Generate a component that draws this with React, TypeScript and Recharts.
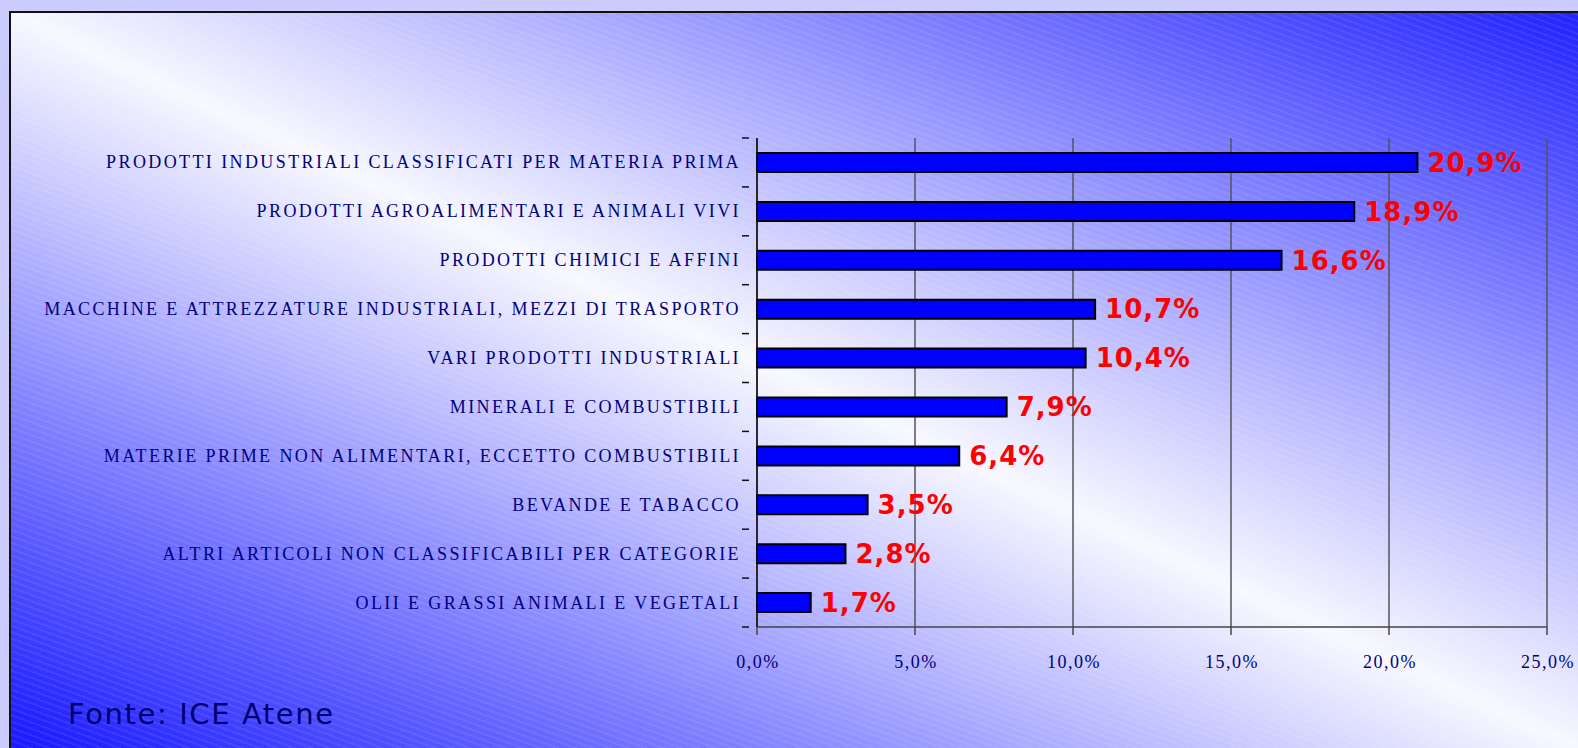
import { BarChart, Bar, XAxis, YAxis, CartesianGrid, LabelList } from 'recharts';

const categories = [
  'PRODOTTI INDUSTRIALI CLASSIFICATI PER MATERIA PRIMA',
  'PRODOTTI AGROALIMENTARI E ANIMALI VIVI',
  'PRODOTTI CHIMICI E AFFINI',
  'MACCHINE E ATTREZZATURE INDUSTRIALI, MEZZI DI TRASPORTO',
  'VARI PRODOTTI INDUSTRIALI',
  'MINERALI E COMBUSTIBILI',
  'MATERIE PRIME NON ALIMENTARI, ECCETTO COMBUSTIBILI',
  'BEVANDE E TABACCO',
  'ALTRI ARTICOLI NON CLASSIFICABILI PER CATEGORIE',
  'OLII E GRASSI ANIMALI E VEGETALI',
];
const shares = [20.9, 18.9, 16.6, 10.7, 10.4, 7.9, 6.4, 3.5, 2.8, 1.7];
const xTicks = [0, 5, 10, 15, 20, 25];

const data = categories.map((name, i) => ({ name, value: shares[i] }));

const pct = (v: number, digits: number) => `${v.toFixed(digits).replace('.', ',')}%`;

if (typeof document !== 'undefined') {
  document.body.style.margin = '0';
  document.documentElement.style.overflow = 'hidden';
}

const W = 1578;
const H = 748;
const PLOT_LEFT = 757;
const PLOT_RIGHT = 1547;
const PLOT_TOP = 138;
const PLOT_BOTTOM = 627;
const BAND = (PLOT_BOTTOM - PLOT_TOP) / categories.length;

const CategoryTick = (props: any) => {
  const { x, y, payload, index } = props;
  const top = y - BAND / 2;
  return (
    <g>
      <line x1={x - 7} x2={x} y1={top} y2={top} stroke="#111" strokeWidth={1.5} />
      {index === categories.length - 1 && (
        <line x1={x - 7} x2={x} y1={top + BAND} y2={top + BAND} stroke="#111" strokeWidth={1.5} />
      )}
      <text
        x={x - 8}
        y={y}
        dy={6}
        textAnchor="end"
        fill="#000080"
        fontFamily="'Liberation Serif', serif"
        fontSize={18}
        letterSpacing={2.4}
      >
        {payload.value}
      </text>
    </g>
  );
};

const PercentTick = (props: any) => {
  const { x, y, payload } = props;
  return (
    <text
      x={x + 1}
      y={y}
      dy={31}
      textAnchor="middle"
      fill="#000080"
      fontFamily="'Liberation Serif', serif"
      fontSize={18}
      letterSpacing={1.5}
    >
      {pct(payload.value, 1)}
    </text>
  );
};

export default function App() {
  return (
    <div
      style={{
        position: 'relative',
        width: W,
        height: H,
        background: '#ccccff',
        overflow: 'hidden',
      }}
    >
      <div
        style={{
          position: 'absolute',
          left: 9,
          top: 11,
          width: W - 9,
          height: H - 11,
          borderLeft: '2px solid #111',
          borderTop: '2px solid #111',
          boxSizing: 'border-box',
          background:
            'repeating-linear-gradient(20deg, rgba(255,255,255,0.07) 0px, rgba(255,255,255,0.07) 2px, rgba(255,255,255,0) 2px, rgba(255,255,255,0) 6px), linear-gradient(to top right, #1818ff 0%, #f8f8ff 50%, #2222ff 100%)',
        }}
      />
      <div style={{ position: 'absolute', left: 0, top: 0 }}>
        <BarChart
          width={W}
          height={H}
          data={data}
          layout="vertical"
          margin={{ top: PLOT_TOP, right: W - PLOT_RIGHT, bottom: H - PLOT_BOTTOM - 40, left: 0 }}
          barCategoryGap={0}
        >
          <CartesianGrid horizontal={false} stroke="#555" strokeWidth={1.5} />
          <XAxis
            type="number"
            domain={[0, 25]}
            ticks={xTicks}
            interval={0}
            height={40}
            stroke="#444"
            strokeWidth={1.5}
            tickSize={8}
            tick={<PercentTick />}
          />
          <YAxis
            type="category"
            dataKey="name"
            width={PLOT_LEFT}
            stroke="#111"
            strokeWidth={1.5}
            tickLine={false}
            interval={0}
            tick={<CategoryTick />}
          />
          <Bar
            dataKey="value"
            fill="#0000ff"
            stroke="#000"
            strokeWidth={2}
            barSize={19}
            isAnimationActive={false}
          >
            <LabelList
              dataKey="value"
              position="right"
              offset={10}
              formatter={(v: any) => pct(Number(v), 1)}
              fill="#ff0000"
              fontFamily="'DejaVu Sans', Verdana, sans-serif"
              fontWeight="bold"
              fontSize={26}
              letterSpacing={1}
            />
          </Bar>
        </BarChart>
      </div>
      <div
        style={{
          position: 'absolute',
          left: 68,
          top: 694,
          fontFamily: "'DejaVu Sans', Verdana, sans-serif",
          fontSize: 29,
          letterSpacing: 1.6,
          color: '#000070',
          lineHeight: '40px',
          whiteSpace: 'nowrap',
        }}
      >
        Fonte: ICE Atene
      </div>
    </div>
  );
}
